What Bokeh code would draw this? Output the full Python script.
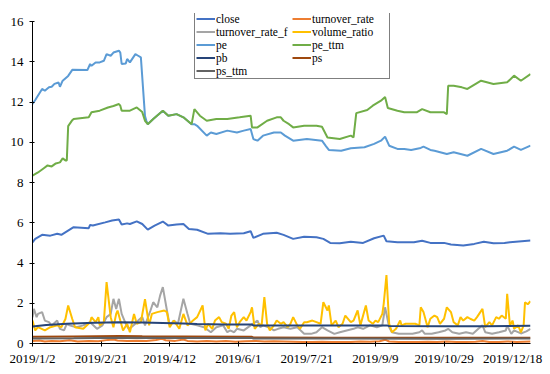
from datetime import date
from bokeh.plotting import figure
from bokeh.models import Range1d, FixedTicker, Legend, LegendItem
from bokeh.embed import file_html
from bokeh.resources import INLINE

# ---------------- data (x = calendar day offset from 2019-01-02) ----------------
start_date = "2019-01-02"
end_date = "2019-12-31"
tick_dates = ["2019-01-02", "2019-02-21", "2019-04-12", "2019-06-01",
              "2019-07-21", "2019-09-09", "2019-10-29", "2019-12-18"]
tick_labels = ["2019/1/2", "2019/2/21", "2019/4/12", "2019/6/1",
               "2019/7/21", "2019/9/9", "2019/10/29", "2019/12/18"]
y_ticks = [0, 2, 4, 6, 8, 10, 12, 14, 16]

close_day = [0, 2, 7, 13, 18, 21, 30, 41, 42, 44, 53, 58, 63, 65, 69, 71, 76, 80, 84, 89,
             95, 99, 105, 110, 114, 120, 128, 137, 144, 154, 159, 161, 168, 178, 183, 190,
             198, 207, 212, 217, 224, 232, 241, 249, 256, 258, 266, 278, 284, 290, 300,
             305, 314, 322, 329, 336, 344, 348, 363]
close = [5.03, 5.2, 5.4, 5.36, 5.45, 5.4, 5.78, 5.73, 5.89, 5.86, 6.02, 6.11, 6.16, 5.91,
         5.97, 5.94, 6.07, 5.94, 5.66, 5.86, 6.06, 5.86, 5.91, 5.94, 5.69, 5.65, 5.45, 5.48,
         5.45, 5.48, 5.58, 5.25, 5.45, 5.5, 5.4, 5.2, 5.31, 5.28, 5.2, 5.0, 4.98, 5.06, 5.0,
         5.23, 5.36, 5.08, 5.03, 5.03, 5.11, 5.0, 5.0, 4.92, 4.87, 4.95, 5.06, 4.98, 5.0,
         5.03, 5.12]

turnover_rate_day = [0, 5, 9, 14, 20, 27, 33, 41, 48, 55, 59, 62, 69, 76, 83, 90, 94, 97,
                     104, 110, 113, 120, 127, 134, 141, 148, 155, 163, 169, 176, 183, 190,
                     197, 204, 211, 218, 225, 232, 239, 246, 253, 257, 260, 267, 274, 281,
                     288, 295, 302, 309, 316, 323, 328, 333, 340, 346, 353, 363]
turnover_rate = [0.12, 0.15, 0.1, 0.13, 0.11, 0.16, 0.1, 0.12, 0.11, 0.18, 0.2, 0.15, 0.12,
                 0.14, 0.12, 0.17, 0.24, 0.16, 0.13, 0.2, 0.13, 0.1, 0.12, 0.1, 0.12, 0.09,
                 0.11, 0.13, 0.1, 0.11, 0.1, 0.09, 0.07, 0.08, 0.09, 0.08, 0.07, 0.08, 0.1,
                 0.09, 0.11, 0.19, 0.1, 0.08, 0.07, 0.08, 0.09, 0.07, 0.1, 0.08, 0.07, 0.09,
                 0.12, 0.08, 0.07, 0.1, 0.08, 0.1]

turnover_rate_f_day = [0, 1, 3, 4, 7, 9, 12, 14, 18, 20, 23, 25, 27, 32, 37, 42, 47, 51, 54,
                       57, 59, 61, 63, 65, 68, 70, 72, 75, 77, 80, 82, 86, 88, 91, 93, 95, 98,
                       100, 103, 106, 110, 113, 115, 120, 125, 130, 134, 139, 142, 144, 147,
                       149, 154, 159, 164, 166, 168, 172, 176, 179, 183, 188, 193, 198, 203,
                       207, 211, 215, 220, 224, 229, 234, 237, 241, 246, 251, 255, 257, 260,
                       262, 267, 272, 277, 282, 284, 286, 291, 296, 301, 303, 306, 311, 316,
                       321, 325, 328, 330, 335, 340, 345, 346, 349, 351, 356, 360, 363]
turnover_rate_f = [1.3, 1.72, 1.31, 1.47, 1.56, 1.14, 1.06, 0.9, 1.14, 0.73, 0.65, 0.98, 0.9,
                   0.81, 0.9, 1.06, 0.73, 0.9, 1.31, 1.47, 2.22, 1.72, 2.22, 1.47, 0.98, 0.73,
                   0.81, 0.98, 1.14, 1.31, 0.9, 1.64, 2.05, 1.8, 2.38, 2.8, 1.64, 0.9, 1.14,
                   0.98, 2.22, 1.47, 0.98, 0.9, 0.81, 0.56, 0.81, 0.9, 0.56, 0.65, 0.56, 0.73,
                   0.65, 0.9, 1.14, 0.81, 0.9, 0.81, 0.65, 0.73, 0.81, 0.73, 0.81, 0.48, 0.48,
                   0.56, 0.81, 0.65, 0.48, 0.56, 0.65, 0.73, 0.81, 0.73, 0.9, 0.81, 0.9, 1.8,
                   0.81, 0.56, 0.48, 0.48, 0.48, 0.56, 0.65, 0.48, 0.48, 0.56, 0.65, 0.73,
                   0.56, 0.48, 0.56, 0.48, 0.73, 0.9, 0.56, 0.48, 0.56, 0.65, 0.9, 0.48, 0.65,
                   0.5, 0.6, 0.73]

volume_ratio_day = [0, 2, 4, 9, 13, 18, 21, 24, 26, 29, 31, 37, 42, 43, 46, 48, 49, 52, 54,
                    57, 59, 61, 62, 64, 66, 69, 71, 74, 76, 79, 82, 85, 87, 91, 96, 98, 100,
                    103, 107, 110, 113, 117, 120, 124, 126, 128, 131, 133, 136, 138, 141,
                    143, 145, 147, 149, 151, 154, 156, 159, 160, 162, 165, 167, 169, 171,
                    173, 176, 178, 181, 183, 186, 188, 190, 193, 195, 198, 200, 204, 207,
                    210, 212, 215, 216, 218, 221, 223, 226, 228, 232, 234, 237, 239, 243,
                    245, 248, 250, 252, 255, 256, 258, 260, 262, 265, 268, 269, 272, 276,
                    279, 282, 283, 285, 288, 290, 293, 295, 297, 300, 302, 305, 307, 310,
                    312, 314, 317, 319, 322, 324, 328, 330, 333, 335, 338, 340, 342, 345,
                    346, 348, 350, 351, 354, 356, 358, 359, 361, 363]
volume_ratio = [1.14, 0.65, 0.81, 0.65, 0.81, 0.9, 0.81, 1.22, 1.89, 1.22, 0.81, 0.73, 1.06,
                1.31, 1.06, 1.31, 0.9, 1.06, 3.05, 1.31, 0.81, 1.47, 1.64, 1.14, 0.65, 0.98,
                0.56, 1.47, 0.98, 1.06, 2.2, 0.9, 1.47, 1.56, 1.64, 1.56, 0.81, 1.14, 0.73,
                1.47, 0.9, 1.14, 1.31, 1.89, 0.65, 0.98, 0.73, 1.14, 1.31, 1.06, 0.98, 0.73,
                1.39, 1.56, 0.81, 1.06, 1.31, 1.14, 1.56, 1.8, 0.73, 0.98, 0.9, 2.3, 0.98,
                0.65, 0.9, 1.14, 0.98, 1.06, 0.81, 0.98, 1.31, 0.9, 0.73, 1.06, 1.06, 1.14,
                1.06, 0.98, 2.05, 1.64, 1.89, 0.9, 1.14, 0.81, 0.98, 1.39, 1.06, 1.14, 1.64,
                0.9, 1.89, 1.14, 0.98, 1.14, 1.06, 1.47, 1.97, 3.4, 0.98, 0.56, 0.73, 1.14,
                0.9, 0.98, 0.98, 0.98, 0.9, 1.8, 1.56, 0.81, 1.23, 1.39, 1.31, 0.98, 1.23,
                1.8, 1.56, 1.06, 0.9, 1.31, 1.14, 1.31, 1.23, 1.14, 1.31, 1.72, 0.81, 1.06,
                0.9, 1.31, 1.23, 1.39, 1.23, 2.47, 0.9, 1.14, 0.73, 0.9, 0.55, 0.9, 2.05,
                1.95, 2.1]

pe_day = [0, 2, 7, 9, 12, 14, 16, 19, 20, 22, 26, 29, 40, 42, 43, 46, 49, 52, 54, 57, 59,
          63, 64, 65, 68, 69, 71, 75, 77, 79, 82, 83, 84, 88, 95, 99, 105, 110, 116, 118,
          120, 127, 130, 134, 142, 149, 154, 159, 161, 164, 168, 176, 181, 184, 190, 200,
          211, 214, 216, 225, 232, 242, 249, 254, 257, 260, 266, 271, 276, 283, 285, 290,
          293, 302, 307, 317, 327, 336, 346, 351, 356, 363]
pe = [11.9, 12.1, 12.65, 12.56, 12.73, 12.76, 12.9, 12.97, 12.76, 13.06, 13.3, 13.6, 13.59,
      13.89, 13.8, 13.97, 13.97, 14.05, 14.38, 14.3, 14.46, 14.55, 14.46, 13.89, 13.92,
      14.14, 13.97, 14.38, 14.3, 14.22, 11.3, 11.07, 10.9, 11.16, 11.57, 11.32, 11.4,
      11.24, 10.9, 10.9, 10.82, 10.33, 10.49, 10.41, 10.58, 10.49, 10.58, 10.66, 10.16,
      10.08, 10.33, 10.49, 10.49, 10.33, 10.08, 10.16, 10.08, 9.8, 9.62, 9.58, 9.7, 9.75,
      9.92, 10.08, 10.28, 9.83, 9.67, 9.67, 9.62, 9.72, 9.78, 9.62, 9.58, 9.42, 9.5, 9.33,
      9.67, 9.42, 9.58, 9.78, 9.62, 9.83]

pe_ttm_day = [0, 4, 8, 11, 14, 17, 20, 22, 24, 25, 26, 29, 30, 41, 43, 49, 55, 59, 63, 64,
              65, 71, 76, 80, 82, 84, 88, 95, 99, 105, 110, 116, 118, 122, 127, 134, 142,
              151, 159, 160, 164, 171, 178, 181, 183, 187, 190, 198, 207, 211, 215, 224,
              232, 234, 236, 244, 248, 254, 257, 259, 266, 271, 280, 284, 290, 300, 302,
              303, 307, 313, 317, 327, 336, 346, 351, 356, 363]
pe_ttm = [8.34, 8.5, 8.7, 8.85, 8.8, 8.95, 9.0, 9.2, 9.1, 9.1, 10.8, 11.1, 11.16, 11.24,
          11.49, 11.57, 11.73, 11.8, 11.9, 11.82, 11.57, 11.57, 11.73, 11.5, 11.07, 10.9,
          11.16, 11.57, 11.32, 11.4, 11.24, 10.9, 11.65, 11.32, 11.07, 11.16, 11.16, 11.24,
          11.32, 10.74, 10.74, 11.07, 11.24, 11.24, 11.07, 10.9, 10.74, 10.82, 10.82, 10.77,
          10.24, 10.16, 10.33, 10.24, 11.45, 11.6, 11.82, 12.07, 12.25, 11.7, 11.57, 11.49,
          11.49, 11.65, 11.49, 11.49, 11.4, 12.81, 12.81, 12.73, 12.65, 13.06, 12.9, 12.98,
          13.31, 13.06, 13.39]

pb_day = [0, 10, 25, 45, 63, 80, 95, 110, 120, 140, 160, 161, 190, 220, 240, 258, 260,
          300, 330, 363]
pb = [0.85, 0.92, 0.98, 1.03, 1.06, 1.04, 1.02, 1.0, 0.97, 0.94, 0.94, 0.9, 0.9, 0.89,
      0.89, 0.9, 0.87, 0.86, 0.86, 0.88]

ps_day = [0, 30, 63, 80, 110, 160, 161, 220, 300, 363]
ps = [0.33, 0.35, 0.37, 0.36, 0.35, 0.33, 0.3, 0.29, 0.28, 0.29]

ps_ttm_day = [0, 30, 63, 110, 160, 161, 220, 300, 363]
ps_ttm = [0.25, 0.26, 0.28, 0.27, 0.27, 0.25, 0.25, 0.24, 0.25]

series = [
    ("close", close_day, close, "#4472C4"),
    ("turnover_rate", turnover_rate_day, turnover_rate, "#ED7D31"),
    ("turnover_rate_f", turnover_rate_f_day, turnover_rate_f, "#A5A5A5"),
    ("volume_ratio", volume_ratio_day, volume_ratio, "#FFC000"),
    ("pe", pe_day, pe, "#5B9BD5"),
    ("pe_ttm", pe_ttm_day, pe_ttm, "#70AD47"),
    ("pb", pb_day, pb, "#264478"),
    ("ps", ps_day, ps, "#9E480E"),
    ("ps_ttm", ps_ttm_day, ps_ttm, "#636363"),
]

# ---------------- figure ----------------
d0 = date.fromisoformat(start_date)
end_day = (date.fromisoformat(end_date) - d0).days
tick_pos = [(date.fromisoformat(t) - d0).days for t in tick_dates]

FONT = "Liberation Serif"

p = figure(width=550, height=374, output_backend="svg", toolbar_location=None,
           x_range=Range1d(0, end_day), y_range=Range1d(0, 16.4),
           min_border_left=32, min_border_right=20, min_border_top=13,
           min_border_bottom=31)
p.outline_line_color = None
p.grid.visible = False
p.background_fill_color = "white"
p.border_fill_color = "white"

p.xaxis.ticker = FixedTicker(ticks=tick_pos)
p.xaxis.major_label_overrides = {pos: lab for pos, lab in zip(tick_pos, tick_labels)}
p.yaxis.ticker = FixedTicker(ticks=y_ticks)
p.yaxis.bounds = (y_ticks[0], y_ticks[-1])

for ax in (p.xaxis, p.yaxis):
    ax.axis_line_color = "black"
    ax.axis_line_width = 1
    ax.major_tick_line_color = "black"
    ax.major_tick_in = 2
    ax.major_tick_out = 3
    ax.minor_tick_line_color = None
    ax.major_label_text_font = FONT
    ax.major_label_text_font_size = "13px"
    ax.major_label_text_color = "black"
p.xaxis.major_label_standoff = 4
p.yaxis.major_label_standoff = 6

items = []
for name, xs, ys, col in series:
    r = p.line(xs, ys, line_color=col, line_width=2)
    items.append(LegendItem(label=name, renderers=[r]))

legend = Legend(items=items, orientation="horizontal", ncols=2,
                location=(162, 264))
legend.label_text_font = FONT
legend.label_text_font_size = "11.5px"
legend.label_text_color = "black"
legend.glyph_width = 19
legend.glyph_height = 13
legend.label_height = 13
legend.label_width = 76
legend.label_standoff = 1
legend.spacing = 0
legend.padding = 1
legend.margin = 0
legend.border_line_color = "black"
legend.border_line_width = 1
legend.background_fill_color = "white"
legend.background_fill_alpha = 1
p.add_layout(legend, "center")

open("out.html", "w").write(file_html(p, INLINE))
